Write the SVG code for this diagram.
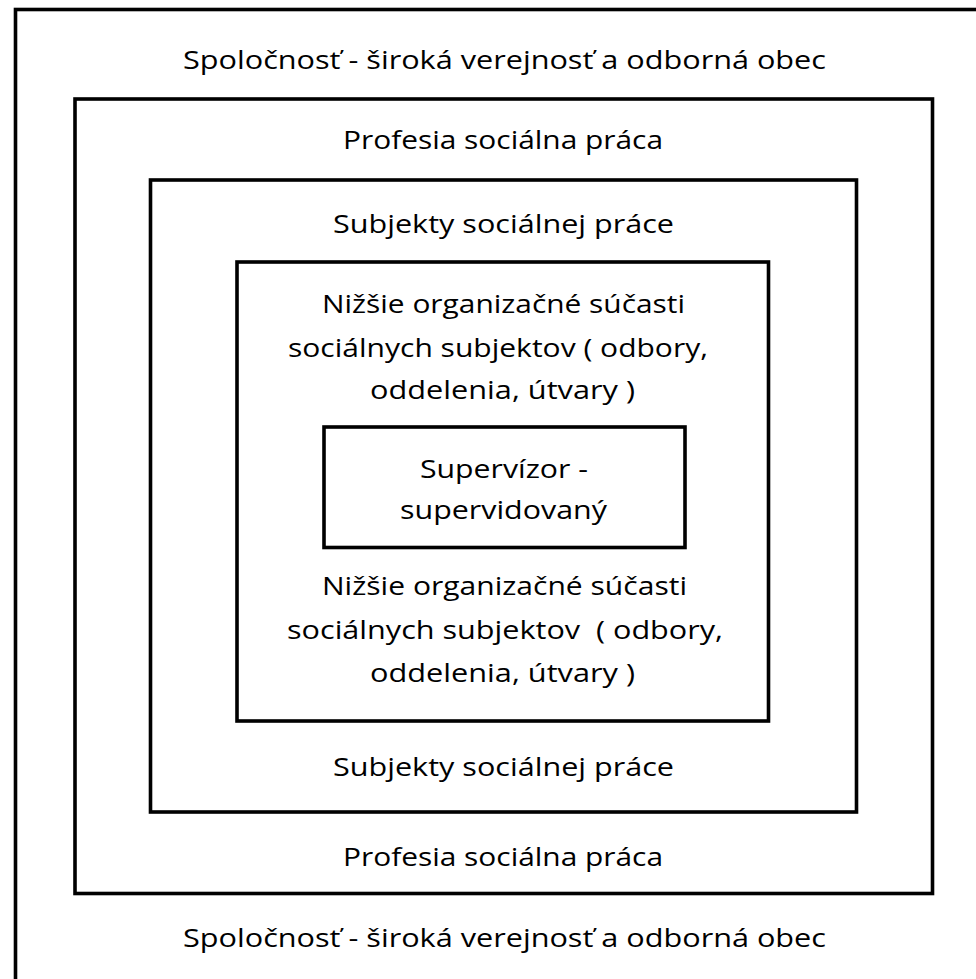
<svg xmlns="http://www.w3.org/2000/svg" width="976" height="979" viewBox="0 0 976 979">
<style>
rect.box{fill:none;stroke:#000;stroke-width:3.6}
text{font-family:"Open Sans","Liberation Sans",sans-serif;font-size:26px;fill:#000;text-anchor:middle}
</style>
<rect width="976" height="979" fill="#fff"/>
<g id="spolocnost">
<rect class="box" x="15.5" y="9.5" width="980" height="990"/>
<text x="504.5" y="69" textLength="643" lengthAdjust="spacingAndGlyphs">Spoločnosť - široká verejnosť a odborná obec</text>
<text x="504.5" y="947" textLength="643" lengthAdjust="spacingAndGlyphs">Spoločnosť - široká verejnosť a odborná obec</text>
</g>
<g id="profesia">
<rect class="box" x="75" y="99" width="857.5" height="794.5"/>
<text x="503" y="149" textLength="320" lengthAdjust="spacingAndGlyphs">Profesia sociálna práca</text>
<text x="503" y="866" textLength="320" lengthAdjust="spacingAndGlyphs">Profesia sociálna práca</text>
</g>
<g id="subjekty">
<rect class="box" x="150.5" y="180" width="706" height="632"/>
<text x="503.5" y="233" textLength="341" lengthAdjust="spacingAndGlyphs">Subjekty sociálnej práce</text>
<text x="503.5" y="776" textLength="341" lengthAdjust="spacingAndGlyphs">Subjekty sociálnej práce</text>
</g>
<g id="nizsie">
<rect class="box" x="237" y="262" width="531.5" height="459"/>
<text x="503.5" y="313" textLength="363" lengthAdjust="spacingAndGlyphs">Nižšie organizačné súčasti</text>
<text x="498" y="357" textLength="420" lengthAdjust="spacingAndGlyphs">sociálnych subjektov ( odbory,</text>
<text x="502.5" y="399" textLength="265" lengthAdjust="spacingAndGlyphs">oddelenia, útvary )</text>
<text x="504.5" y="595" textLength="365" lengthAdjust="spacingAndGlyphs">Nižšie organizačné súčasti</text>
<text x="505" y="639" textLength="436" lengthAdjust="spacingAndGlyphs" xml:space="preserve">sociálnych subjektov  ( odbory,</text>
<text x="502.5" y="682" textLength="265" lengthAdjust="spacingAndGlyphs">oddelenia, útvary )</text>
</g>
<g id="supervizor">
<rect class="box" x="324" y="427" width="361" height="120.5"/>
<text x="504" y="478" textLength="168" lengthAdjust="spacingAndGlyphs">Supervízor -</text>
<text x="503.5" y="519" textLength="207" lengthAdjust="spacingAndGlyphs">supervidovaný</text>
</g>
<g id="connectors"/>
</svg>
